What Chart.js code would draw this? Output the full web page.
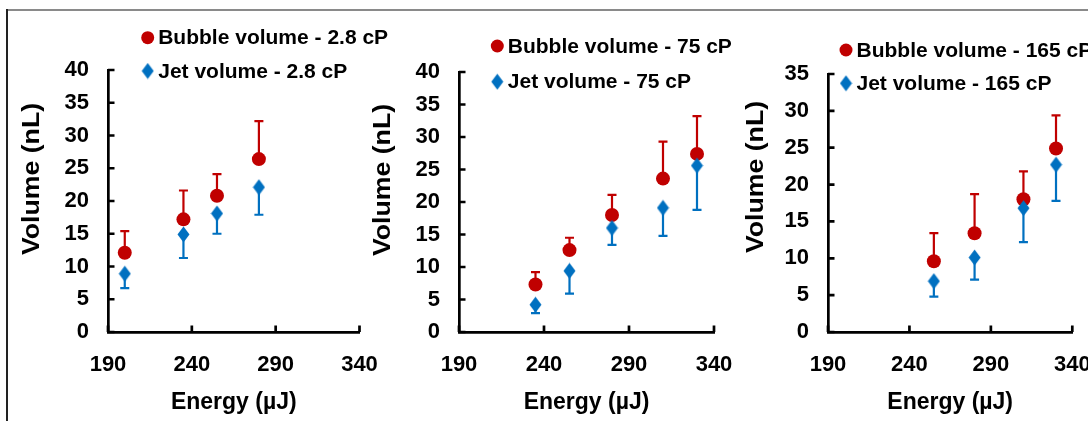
<!DOCTYPE html>
<html><head><meta charset="utf-8">
<script src="https://cdn.jsdelivr.net/npm/chart.js@4.4.1/dist/chart.umd.min.js"></script>
<style>
html,body{margin:0;padding:0;background:#fff;width:1088px;height:421px;overflow:hidden;position:relative}
canvas{position:absolute;top:0}
#frameTop{position:absolute;left:7px;top:9px;width:1081px;height:2px;background:#8a8a8a}
#frameLeft{position:absolute;left:6px;top:9px;width:2px;height:412px;background:#222}
</style></head><body>
<div id="frameTop"></div><div id="frameLeft"></div>
<canvas id="c1" width="380" height="421" style="left:8px"></canvas>
<canvas id="c2" width="382" height="421" style="left:360px"></canvas>
<canvas id="c3" width="370" height="421" style="left:730px"></canvas>
<script>
// ---- data ----
const energy1 = [200, 235, 255, 280];
const bubble1 = [12.1, 17.2, 20.8, 26.4];
const bubbleErr1 = [3.3, 4.4, 3.3, 5.8];
const jet1 = [8.9, 14.9, 18.1, 22.1];
const jetErr1 = [2.2, 3.6, 3.1, 4.2];

const energy2 = [235, 255, 280, 310, 330];
const bubble2 = [7.3, 12.6, 18.0, 23.6, 27.4];
const bubbleErr2 = [1.9, 1.9, 3.1, 5.7, 5.8];
const jet2 = [4.2, 9.4, 16.0, 19.1, 25.6];
const jetErr2 = [1.3, 3.5, 2.6, 4.3, 6.8];

const energy3 = [255, 280, 310, 330];
const bubble3 = [9.6, 13.4, 18.0, 24.9];
const bubbleErr3 = [3.8, 5.3, 3.8, 4.5];
const jet3 = [6.9, 10.1, 16.8, 22.7];
const jetErr3 = [2.1, 3.0, 4.6, 4.9];

const viscosities = ['2.8 cP', '75 cP', '165 cP'];
const yMaxes = [40, 40, 35];
const xMin = 190, xMax = 340, xStep = 50, yStep = 5;
const xTitle = 'Energy (\u00b5J)';
const yTitle = 'Volume (nL)';

// ---- style ----
const RED = '#C00000', BLUE = '#0070C0';
const FONT = '"Liberation Sans", Arial, sans-serif';

function diamondCanvas(color) {
  const c = document.createElement('canvas');
  c.width = 13; c.height = 17;
  const g = c.getContext('2d');
  g.fillStyle = color;
  g.beginPath();
  g.moveTo(6.5, 0.5); g.lineTo(12.5, 8.5); g.lineTo(6.5, 16.5); g.lineTo(0.5, 8.5);
  g.closePath(); g.fill();
  return c;
}
const DIAMOND = diamondCanvas(BLUE);

const decor = {
  id: 'decor',
  beforeDatasetsDraw(chart) {
    const {ctx, scales: {x, y}} = chart;
    chart.data.datasets.forEach(ds => {
      ctx.save();
      ctx.strokeStyle = ds.errColor;
      ctx.lineWidth = 2.2;
      ds.data.forEach((p, j) => {
        const px = x.getPixelForValue(p.x);
        const py = y.getPixelForValue(p.y);
        const pe = y.getPixelForValue(p.y + ds.errDir * ds.errors[j]);
        ctx.beginPath();
        ctx.moveTo(px, py); ctx.lineTo(px, pe);
        ctx.moveTo(px - 4.5, pe); ctx.lineTo(px + 4.5, pe);
        ctx.stroke();
      });
      ctx.restore();
    });
  },
  afterDraw(chart, args, o) {
    const {ctx, chartArea: a, scales: {x, y}} = chart;
    ctx.save();
    // inside tick marks
    ctx.strokeStyle = '#000'; ctx.lineWidth = 2.7;
    ctx.beginPath();
    y.ticks.forEach(t => { const py = y.getPixelForValue(t.value); ctx.moveTo(a.left, py); ctx.lineTo(a.left + 6.5, py); });
    x.ticks.forEach(t => { const px = x.getPixelForValue(t.value); ctx.moveTo(px, a.bottom); ctx.lineTo(px, a.bottom - 6.5); });
    ctx.stroke();
    // y title
    ctx.fillStyle = '#000';
    ctx.font = 'bold 23px ' + FONT;
    ctx.textAlign = 'center'; ctx.textBaseline = 'middle';
    ctx.translate(a.left - o.yTitleDx, o.yTitleY);
    ctx.rotate(-Math.PI / 2);
    ctx.scale(1.16, 1);
    ctx.fillText(yTitle, 0, 0);
    ctx.restore();
    // legend
    ctx.save();
    const ds = chart.data.datasets;
    ctx.font = 'bold 21px ' + FONT;
    ctx.textAlign = 'left'; ctx.textBaseline = 'middle';
    ctx.fillStyle = RED;
    ctx.beginPath(); ctx.arc(o.legX, o.legY1, 6.5, 0, Math.PI * 2); ctx.fill();
    ctx.drawImage(DIAMOND, o.legX - 6.5, o.legY2 - 8.5);
    ctx.fillStyle = '#000';
    ctx.fillText(ds[1].label, o.legX + 10.5, o.legY1 + 1);
    ctx.fillText(ds[0].label, o.legX + 10.5, o.legY2 + 1);
    ctx.restore();
  }
};

function pts(xs, ys) { return xs.map((v, i) => ({x: v, y: ys[i]})); }

function makePanel(id, idx, energy, bubble, bubbleErr, jet, jetErr, lay) {
  const yMax = yMaxes[idx];
  new Chart(document.getElementById(id), {
    type: 'scatter',
    data: {
      datasets: [
        { label: 'Jet volume - ' + viscosities[idx], data: pts(energy, jet),
          pointStyle: DIAMOND, pointRadius: 6.5, backgroundColor: BLUE, borderColor: BLUE,
          errors: jetErr, errDir: -1, errColor: BLUE, order: 0 },
        { label: 'Bubble volume - ' + viscosities[idx], data: pts(energy, bubble),
          pointStyle: 'circle', pointRadius: 7, borderWidth: 0, backgroundColor: RED, borderColor: RED,
          errors: bubbleErr, errDir: 1, errColor: RED, order: 1 }
      ]
    },
    options: {
      responsive: false, animation: false, devicePixelRatio: 1,
      layout: { padding: { top: lay.top, right: lay.right, bottom: 0, left: 0 } },
      plugins: { legend: { display: false }, tooltip: { enabled: false }, decor: lay },
      scales: {
        x: {
          type: 'linear', min: xMin, max: xMax,
          ticks: { stepSize: xStep, padding: 20, color: '#000', font: { family: FONT, size: 22, weight: 'bold' } },
          grid: { display: false, drawTicks: false },
          border: { display: true, color: '#000', width: 2.7 },
          title: { display: true, text: xTitle, color: '#000', font: { family: FONT, size: 23, weight: 'bold' }, padding: { top: 0, bottom: 5 } },
          afterFit(s) { s.height = 89; s.paddingLeft = 0; s.paddingRight = 0; }
        },
        y: {
          min: 0, max: yMax,
          ticks: { stepSize: yStep, padding: 19, color: '#000', font: { family: FONT, size: 22, weight: 'bold' } },
          grid: { display: false, drawTicks: false },
          border: { display: true, color: '#000', width: 2.7 },
          afterFit(s) { s.width = lay.yw; s.paddingTop = 0; s.paddingBottom = 0; }
        }
      }
    },
    plugins: [decor]
  });
}

makePanel('c1', 0, energy1, bubble1, bubbleErr1, jet1, jetErr1,
  { top: 70, right: 28.5, yw: 100, yTitleDx: 75.4, yTitleY: 179, legX: 139.7, legY1: 37.7, legY2: 71 });
makePanel('c2', 1, energy2, bubble2, bubbleErr2, jet2, jetErr2,
  { top: 72, right: 28, yw: 99, yTitleDx: 75.4, yTitleY: 180, legX: 137.3, legY1: 46, legY2: 81.7 });
makePanel('c3', 2, energy3, bubble3, bubbleErr3, jet3, jetErr3,
  { top: 74, right: 27.7, yw: 98, yTitleDx: 71, yTitleY: 177, legX: 116, legY1: 50, legY2: 83.3 });
</script>
</body></html>
